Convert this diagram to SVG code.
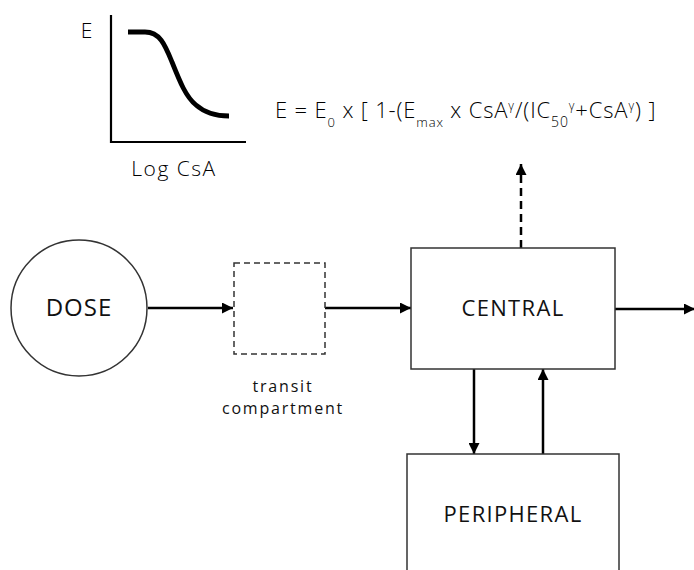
<svg xmlns="http://www.w3.org/2000/svg" width="694" height="570" viewBox="0 0 694 570">
  <style>
    .lbl { font-family: "Open Sans", "Liberation Sans", sans-serif; fill: #111; }
    .thin { font-family: "Open Sans", "Liberation Sans", sans-serif; font-weight: 300; fill: #000; }
    .sub { font-size: 13px; }
    .sup { font-size: 12px; }
    .box { fill: #fff; stroke: #333; stroke-width: 1.5; }
    .dbox { fill: none; stroke: #333; stroke-width: 1.5; stroke-dasharray: 6 4; }
    .conn { fill: none; stroke: #000; stroke-width: 2.5; }
    .dash { stroke-dasharray: 8 5; }
  </style>
  <defs>
    <marker id="arrow" viewBox="0 0 10 10" refX="10" refY="5" markerWidth="11" markerHeight="11" markerUnits="userSpaceOnUse" orient="auto">
      <path d="M0,0 L10,5 L0,10 Z" fill="#000"/>
    </marker>
  </defs>
  <rect width="694" height="570" fill="#fff"/>

  <g id="graph">
    <path d="M111,15 L111,142 L246,142" fill="none" stroke="#000" stroke-width="2.2"/>
    <path d="M128,32 L145,32 C160,32 165,45 172,62 C180,82 186,97 196,105 C205,113 215,116 229,116" fill="none" stroke="#000" stroke-width="4.8"/>
    <text class="thin" x="86.5" y="38" font-size="21" text-anchor="middle">E</text>
    <text class="thin" x="174" y="176" font-size="21" letter-spacing="1.5" text-anchor="middle">Log CsA</text>
  </g>

  <g id="equation">
    <text class="thin" x="275" y="117.5" font-size="22" letter-spacing="0.85">E = E<tspan class="sub" dy="9.5">0</tspan><tspan dy="-9.5"> x [ 1-(E</tspan><tspan class="sub" dy="9.5">max</tspan><tspan dy="-9.5"> x CsA</tspan><tspan class="sup" dy="-7.5">γ</tspan><tspan dy="7.5">/(IC</tspan><tspan font-size="14" dy="9.5">50</tspan><tspan class="sup" dy="-17">γ</tspan><tspan dy="7.5">+CsA</tspan><tspan class="sup" dy="-7.5">γ</tspan><tspan dy="7.5">) ]</tspan></text>
  </g>

  <g id="connectors">
    <line class="conn" x1="148" y1="308" x2="233" y2="308" marker-end="url(#arrow)"/>
    <line class="conn" x1="325" y1="308" x2="411" y2="308" marker-end="url(#arrow)"/>
    <line class="conn" x1="615" y1="309" x2="695" y2="309" marker-end="url(#arrow)"/>
    <line class="conn dash" x1="521" y1="248" x2="521" y2="164" marker-end="url(#arrow)"/>
    <line class="conn" x1="474" y1="369" x2="474" y2="454" marker-end="url(#arrow)"/>
    <line class="conn" x1="543" y1="454" x2="543" y2="369" marker-end="url(#arrow)"/>
  </g>

  <g id="dose">
    <circle cx="79" cy="308" r="68" fill="#fff" stroke="#333" stroke-width="1.5"/>
    <text class="lbl" x="79" y="316" font-size="24" letter-spacing="1" text-anchor="middle">DOSE</text>
  </g>

  <g id="transit">
    <rect class="dbox" x="234" y="263" width="91" height="91"/>
    <text class="lbl" x="283" y="392" font-size="16" letter-spacing="1.8" text-anchor="middle">transit</text>
    <text class="lbl" x="283" y="414" font-size="16" letter-spacing="1.8" text-anchor="middle">compartment</text>
  </g>

  <g id="central">
    <rect class="box" x="411" y="248" width="204" height="121"/>
    <text class="lbl" x="513" y="316" font-size="22" letter-spacing="1.3" text-anchor="middle">CENTRAL</text>
  </g>

  <g id="peripheral">
    <rect class="box" x="407" y="454" width="212" height="130"/>
    <text class="lbl" x="513" y="522" font-size="22" letter-spacing="1.3" text-anchor="middle">PERIPHERAL</text>
  </g>
</svg>
